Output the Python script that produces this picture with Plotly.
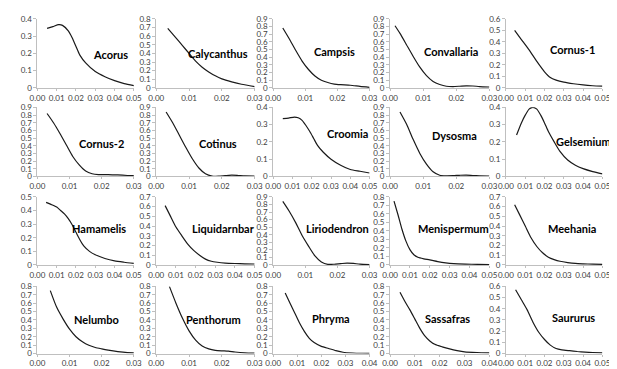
import plotly.graph_objects as go

W, H = 617, 369

# ---------------- data ----------------
names = ["Acorus", "Calycanthus", "Campsis", "Convallaria", "Cornus-1",
         "Cornus-2", "Cotinus", "Croomia", "Dysosma", "Gelsemium",
         "Hamamelis", "Liquidarnbar", "Liriodendron", "Menispermum", "Meehania",
         "Nelumbo", "Penthorum", "Phryma", "Sassafras", "Saururus"]
x_max = [0.05, 0.03, 0.03, 0.03, 0.05,
         0.03, 0.03, 0.05, 0.03, 0.05,
         0.05, 0.05, 0.03, 0.05, 0.05,
         0.03, 0.03, 0.04, 0.04, 0.05]
y_max = [0.4, 0.8, 0.9, 0.9, 0.6,
         0.9, 0.9, 0.4, 0.9, 0.4,
         0.5, 0.7, 0.9, 0.8, 0.7,
         0.8, 0.8, 0.8, 0.8, 0.6]

acorus_x = [0.005, 0.008, 0.011, 0.013, 0.016, 0.018, 0.020, 0.022, 0.025, 0.030, 0.035, 0.040, 0.045, 0.050]
acorus_y = [0.345, 0.355, 0.366, 0.362, 0.33, 0.29, 0.24, 0.19, 0.145, 0.095, 0.065, 0.042, 0.025, 0.013]
calycanthus_x = [0.0035, 0.006, 0.008, 0.010, 0.012, 0.014, 0.016, 0.018, 0.020, 0.023, 0.026, 0.030]
calycanthus_y = [0.69, 0.58, 0.49, 0.40, 0.31, 0.24, 0.185, 0.14, 0.105, 0.07, 0.042, 0.015]
campsis_x = [0.003, 0.005, 0.007, 0.009, 0.011, 0.013, 0.015, 0.017, 0.019, 0.021, 0.024, 0.027, 0.030]
campsis_y = [0.78, 0.64, 0.49, 0.35, 0.24, 0.155, 0.10, 0.07, 0.05, 0.042, 0.035, 0.02, 0.008]
convallaria_x = [0.0015, 0.003, 0.005, 0.007, 0.009, 0.011, 0.013, 0.015, 0.017, 0.019, 0.021, 0.023, 0.025, 0.027, 0.030]
convallaria_y = [0.81, 0.71, 0.56, 0.41, 0.27, 0.16, 0.085, 0.045, 0.022, 0.018, 0.022, 0.027, 0.025, 0.018, 0.012]
cornus1_x = [0.0045, 0.008, 0.012, 0.016, 0.020, 0.023, 0.026, 0.030, 0.035, 0.040, 0.045, 0.050]
cornus1_y = [0.50, 0.42, 0.33, 0.23, 0.14, 0.09, 0.068, 0.05, 0.036, 0.026, 0.019, 0.015]

cornus2_x = [0.003, 0.005, 0.007, 0.009, 0.011, 0.013, 0.015, 0.017, 0.019, 0.022, 0.025, 0.028, 0.030]
cornus2_y = [0.82, 0.70, 0.56, 0.41, 0.26, 0.15, 0.07, 0.035, 0.025, 0.025, 0.02, 0.012, 0.01]
cotinus_x = [0.003, 0.005, 0.007, 0.009, 0.011, 0.013, 0.015, 0.017, 0.019, 0.021, 0.023, 0.025, 0.027, 0.030]
cotinus_y = [0.84, 0.70, 0.54, 0.38, 0.23, 0.11, 0.035, 0.005, 0.003, 0.01, 0.016, 0.012, 0.007, 0.005]
croomia_x = [0.005, 0.008, 0.011, 0.013, 0.015, 0.017, 0.019, 0.021, 0.023, 0.026, 0.030, 0.035, 0.040, 0.045, 0.050]
croomia_y = [0.335, 0.338, 0.344, 0.34, 0.325, 0.295, 0.26, 0.22, 0.18, 0.14, 0.10, 0.065, 0.04, 0.03, 0.02]
dysosma_x = [0.003, 0.005, 0.007, 0.009, 0.011, 0.013, 0.015, 0.017, 0.019, 0.021, 0.023, 0.025, 0.027, 0.030]
dysosma_y = [0.84, 0.68, 0.48, 0.30, 0.16, 0.06, 0.015, 0.008, 0.01, 0.015, 0.018, 0.012, 0.008, 0.006]
gelsemium_x = [0.0055, 0.008, 0.010, 0.012, 0.014, 0.016, 0.018, 0.020, 0.022, 0.025, 0.028, 0.032, 0.036, 0.040, 0.045, 0.050]
gelsemium_y = [0.24, 0.31, 0.355, 0.39, 0.40, 0.39, 0.355, 0.31, 0.26, 0.20, 0.145, 0.095, 0.065, 0.045, 0.028, 0.015]

hamamelis_x = [0.0045, 0.007, 0.010, 0.012, 0.014, 0.016, 0.018, 0.020, 0.022, 0.024, 0.027, 0.030, 0.035, 0.040, 0.045, 0.050]
hamamelis_y = [0.46, 0.445, 0.425, 0.40, 0.375, 0.34, 0.295, 0.24, 0.185, 0.14, 0.10, 0.075, 0.048, 0.03, 0.02, 0.012]
liquidambar_x = [0.0045, 0.007, 0.010, 0.013, 0.016, 0.019, 0.022, 0.025, 0.028, 0.031, 0.035, 0.040, 0.045, 0.050]
liquidambar_y = [0.61, 0.51, 0.39, 0.30, 0.215, 0.15, 0.10, 0.06, 0.038, 0.028, 0.02, 0.015, 0.012, 0.01]
liriodendron_x = [0.003, 0.005, 0.007, 0.009, 0.011, 0.013, 0.015, 0.017, 0.019, 0.021, 0.023, 0.025, 0.027, 0.030]
liriodendron_y = [0.84, 0.71, 0.56, 0.39, 0.25, 0.12, 0.04, 0.008, 0.01, 0.018, 0.025, 0.02, 0.012, 0.006]
menispermum_x = [0.002, 0.004, 0.006, 0.008, 0.010, 0.012, 0.014, 0.017, 0.020, 0.024, 0.028, 0.032, 0.038, 0.044, 0.050]
menispermum_y = [0.75, 0.59, 0.42, 0.28, 0.18, 0.12, 0.09, 0.072, 0.06, 0.04, 0.025, 0.016, 0.01, 0.007, 0.005]
meehania_x = [0.0045, 0.007, 0.010, 0.013, 0.016, 0.019, 0.022, 0.025, 0.028, 0.032, 0.036, 0.040, 0.045, 0.050]
meehania_y = [0.62, 0.52, 0.40, 0.28, 0.19, 0.125, 0.08, 0.055, 0.038, 0.025, 0.016, 0.012, 0.008, 0.007]

nelumbo_x = [0.004, 0.006, 0.008, 0.010, 0.012, 0.014, 0.016, 0.018, 0.020, 0.022, 0.025, 0.028, 0.030]
nelumbo_y = [0.75, 0.55, 0.41, 0.29, 0.20, 0.14, 0.098, 0.072, 0.055, 0.04, 0.022, 0.01, 0.007]
penthorum_x = [0.004, 0.006, 0.008, 0.010, 0.012, 0.014, 0.016, 0.018, 0.020, 0.022, 0.024, 0.027, 0.030]
penthorum_y = [0.80, 0.60, 0.42, 0.27, 0.16, 0.09, 0.055, 0.038, 0.032, 0.028, 0.018, 0.008, 0.004]
phryma_x = [0.005, 0.007, 0.009, 0.011, 0.013, 0.015, 0.017, 0.020, 0.023, 0.026, 0.029, 0.033, 0.037, 0.040]
phryma_y = [0.72, 0.60, 0.48, 0.36, 0.26, 0.18, 0.13, 0.085, 0.06, 0.035, 0.015, 0.006, 0.003, 0.002]
sassafras_x = [0.004, 0.006, 0.008, 0.010, 0.012, 0.014, 0.016, 0.018, 0.021, 0.024, 0.027, 0.030, 0.035, 0.040]
sassafras_y = [0.73, 0.62, 0.52, 0.41, 0.30, 0.21, 0.15, 0.11, 0.08, 0.055, 0.035, 0.02, 0.012, 0.008]
saururus_x = [0.005, 0.008, 0.011, 0.014, 0.017, 0.020, 0.023, 0.026, 0.029, 0.033, 0.037, 0.041, 0.045, 0.050]
saururus_y = [0.57, 0.48, 0.39, 0.28, 0.19, 0.125, 0.075, 0.045, 0.033, 0.025, 0.018, 0.013, 0.009, 0.006]

series_x = [acorus_x, calycanthus_x, campsis_x, convallaria_x, cornus1_x,
            cornus2_x, cotinus_x, croomia_x, dysosma_x, gelsemium_x,
            hamamelis_x, liquidambar_x, liriodendron_x, menispermum_x, meehania_x,
            nelumbo_x, penthorum_x, phryma_x, sassafras_x, saururus_x]
series_y = [acorus_y, calycanthus_y, campsis_y, convallaria_y, cornus1_y,
            cornus2_y, cotinus_y, croomia_y, dysosma_y, gelsemium_y,
            hamamelis_y, liquidambar_y, liriodendron_y, menispermum_y, meehania_y,
            nelumbo_y, penthorum_y, phryma_y, sassafras_y, saururus_y]

# ---------------- layout geometry (pixels) ----------------
col_left = [22, 144, 264, 384, 503]
col_right = [121, 245, 363, 486, 602]
row_top = [6, 97, 189, 281]
row_bottom = [77, 168, 259, 350]
label_pos = [(97, 43), (207, 42), (327, 40), (447, 40), (571, 38),
             (88, 134), (207, 134), (340, 124), (450, 126), (583, 132),
             (85, 222), (213, 222), (330, 222), (449, 222), (571, 222),
             (83, 315), (203, 315), (323, 314), (443, 314), (572, 313)]

FONT = "Lato, Carlito, Calibri, Roboto, sans-serif"
TICK_FONT = dict(family=FONT, size=8, color="#404040")
AX_COLOR = "#bfbfbf"

fig = go.Figure()
layout = dict(width=W, height=H, margin=dict(l=0, r=0, t=0, b=0),
              paper_bgcolor="white", plot_bgcolor="white", showlegend=False)
annotations = []

for i, name in enumerate(names):
    r, c = divmod(i, 5)
    k = "" if i == 0 else str(i + 1)
    fig.add_trace(go.Scatter(x=series_x[i], y=series_y[i], mode="lines",
                             line=dict(color="#1a1a1a", width=1.2, shape="spline", smoothing=0.6),
                             xaxis="x" + k, yaxis="y" + k, hoverinfo="skip"))
    layout["xaxis" + k] = dict(domain=[col_left[c] / W, col_right[c] / W], anchor="y" + k,
                               range=[0, x_max[i]], dtick=0.01, tick0=0, tickformat=".2f",
                               tickangle=0,
                               showline=True, linecolor=AX_COLOR, linewidth=1,
                               ticks="outside", ticklen=2, tickcolor=AX_COLOR,
                               showgrid=False, zeroline=False, tickfont=TICK_FONT,
                               fixedrange=True)
    layout["yaxis" + k] = dict(domain=[1 - row_bottom[r] / H, 1 - row_top[r] / H], anchor="x" + k,
                               range=[0, y_max[i]], dtick=0.1, tick0=0,
                               showline=True, linecolor=AX_COLOR, linewidth=1,
                               ticks="outside", ticklen=3, tickcolor=AX_COLOR,
                               showgrid=False, zeroline=False, tickfont=TICK_FONT,
                               fixedrange=True)
    lx, ly = label_pos[i]
    annotations.append(dict(text="<b>%s</b>" % name, x=lx / W, y=1 - ly / H,
                            xref="paper", yref="paper", showarrow=False,
                            xanchor="center", yanchor="middle",
                            font=dict(family=FONT, size=11, color="black")))

layout["annotations"] = annotations
fig.update_layout(**layout)
fig.write_html("out.html")
